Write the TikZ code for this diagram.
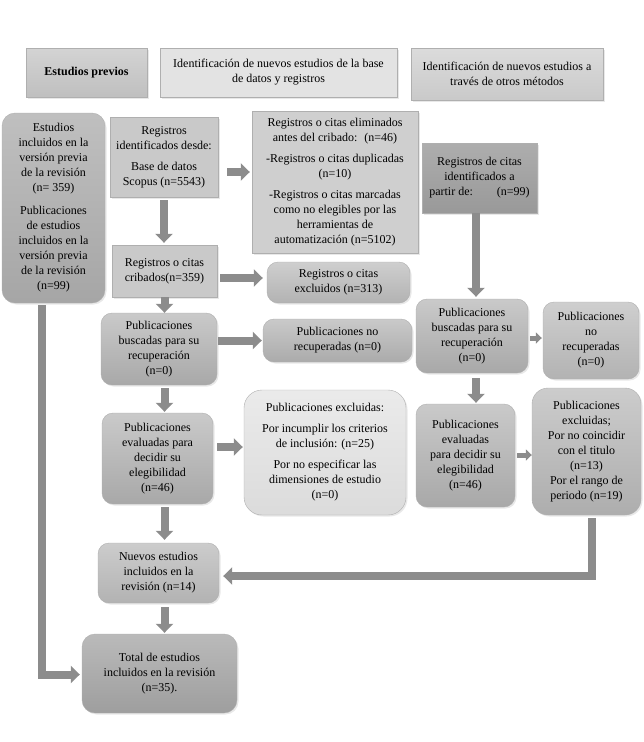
\documentclass[tikz,border=0pt]{standalone}
\usepackage{fontspec}
\setmainfont{Liberation Serif}
\usepackage{tikz}
\usetikzlibrary{arrows.meta,arrows}
\usetikzlibrary{shadows}

\definecolor{arrowgray}{RGB}{140,140,140}
\definecolor{boxline}{RGB}{175,175,175}

\begin{document}
\begin{tikzpicture}[x=1pt, y=-1pt,
  box/.style={draw=boxline, line width=0.4pt, align=center, inner sep=1pt,
    font=\fontsize{12}{15}\selectfont,
    drop shadow={opacity=0.18, shadow xshift=1.5pt, shadow yshift=-1.5pt}},
  rbox/.style={box, rounded corners=11pt},
  blk/.style={line width=8pt, draw=arrowgray, -{Triangle[width=17pt,length=9pt]}},
  smallblk/.style={line width=5pt, draw=arrowgray, -{Triangle[width=11pt,length=6pt]}}]

 \useasboundingbox (0,0) rectangle (643,742);

 % Column headers
 \node [box, top color=black!17, bottom color=black!25, minimum width=121pt, minimum height=49pt, font=\fontsize{12}{15}\selectfont\bfseries] (headprev) at (86.5,72.5) {Estudios previos};
 \node [box, fill=black!11, minimum width=237pt, minimum height=49pt] (headdb) at (278.5,72.5) {Identificación de nuevos estudios de la base\\ de datos y registros};
 \node [box, top color=black!14, bottom color=black!21, minimum width=192pt, minimum height=52pt] (headother) at (507,74) {Identificación de nuevos estudios a\\ través de otros métodos};

 % Previous studies
 \node [rbox, top color=black!25, bottom color=black!35, minimum width=103pt, minimum height=190pt, rounded corners=13pt] (prev) at (53.5,208) {Estudios\\ incluidos en la\\ versión previa\\ de la revisión\\ (n= 359)\\[8pt] Publicaciones\\ de estudios\\ incluidos en la\\ versión previa\\ de la revisión\\ (n=99)};

 % Database and registers
 \node [box, fill=black!21, minimum width=108pt, minimum height=80pt] (ident) at (164,157) {Registros\\ identificados desde:\\[6pt] Base de datos\\ Scopus (n=5543)};
 \node [box, fill=black!19, minimum width=166pt, minimum height=142pt] (elim) at (335,182) {Registros o citas eliminados\\ antes del cribado:~ (n=46)\\[6pt] -Registros o citas duplicadas\\ (n=10)\\[6pt] -Registros o citas marcadas\\ como no elegibles por las\\ herramientas de\\ automatización (n=5102)};
 \node [box, fill=black!21, minimum width=105pt, minimum height=52pt] (crib) at (164.5,271) {Registros o citas\\ cribados(n=359)};
 \node [rbox, top color=black!19, bottom color=black!30, minimum width=143pt, minimum height=41pt] (excl) at (338.5,282.5) {Registros o citas\\ excluidos (n=313)};
 \node [rbox, top color=black!21, bottom color=black!34, minimum width=116pt, minimum height=72pt] (busc) at (159,349) {Publicaciones\\ buscadas para su\\ recuperación\\ (n=0)};
 \node [rbox, top color=black!21, bottom color=black!33, minimum width=149pt, minimum height=43pt] (norec) at (337.5,340.5) {Publicaciones no\\ recuperadas (n=0)};
 \node [rbox, top color=black!21, bottom color=black!34, minimum width=111pt, minimum height=91pt] (eval) at (157.5,458.5) {Publicaciones\\ evaluadas para\\ decidir su\\ elegibilidad\\ (n=46)};
 \node [rbox, top color=black!8, bottom color=black!14, minimum width=162pt, minimum height=125pt, rounded corners=18pt] (exclpub) at (325,452.5) {Publicaciones excluidas:\\[6pt] Por incumplir los criterios\\ de inclusión: (n=25)\\[6pt] Por no especificar las\\ dimensiones de estudio\\ (n=0)};
 \node [rbox, top color=black!20, bottom color=black!30, minimum width=121pt, minimum height=60pt] (nuevos) at (158.5,573) {Nuevos estudios\\ incluidos en la\\ revisión (n=14)};
 \node [rbox, top color=black!27, bottom color=black!38, minimum width=155pt, minimum height=79pt, rounded corners=13pt] (total) at (159.5,673.5) {Total de estudios\\ incluidos en la revisión\\ (n=35).};

 % Other methods
 \node [box, top color=black!32, bottom color=black!40, minimum width=115pt, minimum height=70pt] (regcit) at (479.5,178) {Registros de citas\\ identificados a\\ partir de:\hspace{2em}(n=99)};
 \node [rbox, top color=black!21, bottom color=black!34, minimum width=112pt, minimum height=74pt] (buscother) at (472,336) {Publicaciones\\ buscadas para su\\ recuperación\\ (n=0)};
 \node [rbox, top color=black!19, bottom color=black!30, minimum width=96pt, minimum height=77pt] (norecother) at (591,340.5) {Publicaciones\\ no\\ recuperadas\\ (n=0)};
 \node [rbox, top color=black!21, bottom color=black!34, minimum width=99pt, minimum height=103pt] (evalother) at (465.5,455.5) {Publicaciones\\ evaluadas\\ para decidir su\\ elegibilidad\\ (n=46)};
 \node [rbox, top color=black!20, bottom color=black!32, minimum width=109pt, minimum height=127pt, rounded corners=16pt] (exclother) at (586.5,451.5) {Publicaciones\\ excluidas;\\ Por no coincidir\\ con el titulo\\ (n=13)\\ Por el rango de\\ periodo (n=19)};

 % Arrows, database column
 \draw [blk, shorten <=9pt, shorten >=2pt] ([yshift=-15pt]ident.east) -- ([yshift=10pt]elim.west);
 \draw [blk, shorten <=3pt, shorten >=2pt] (ident.south) -- (ident.south |- crib.north);
 \draw [blk, shorten <=3pt, shorten >=4pt] ([yshift=-7pt]crib.east) -- ([yshift=4.5pt]excl.west);
 \draw [blk] (crib.south) -- (crib.south |- busc.north);
 \draw [blk, shorten <=1pt, shorten >=1pt] (busc.east |- norec.west) -- (norec.west);
 \draw [blk, shorten <=3pt, shorten >=1pt] (crib.south |- busc.south) -- (crib.south |- eval.north);
 \draw [blk, shorten <=4pt, shorten >=1pt] ([yshift=11.5pt]eval.east) -- ([yshift=5.5pt]exclpub.west);
 \draw [blk, shorten <=3pt, shorten >=3pt] (crib.south |- eval.south) -- (crib.south |- nuevos.north);
 \draw [blk, shorten <=4pt, shorten >=1pt] (crib.south |- nuevos.south) -- (crib.south |- total.north);

 % Arrows, other methods column
 \draw [blk, shorten >=2pt] ([xshift=-3.5pt]regcit.south) -- ([xshift=4pt]buscother.north);
 \draw [smallblk, shorten <=2pt, shorten >=1pt] ([yshift=-2pt]buscother.east) -- ([yshift=2.5pt]norecother.west);
 \draw [blk, shorten <=5pt, shorten >=1pt] ([xshift=4pt]buscother.south) -- ([xshift=10.5pt]evalother.north);
 \draw [smallblk, shorten <=2pt] ([yshift=0.5pt]evalother.east) -- ([yshift=-3.5pt]exclother.west);
 \draw [blk, shorten <=3pt, shorten >=4pt] ([xshift=5.5pt]exclother.south) |- ([yshift=-3pt]nuevos.east);

 % Previous studies into the total
 \draw [blk, shorten <=2pt, shorten >=2pt] ([xshift=-11.5pt]prev.south) |- ([yshift=-1pt]total.west);

\end{tikzpicture}
\end{document}
